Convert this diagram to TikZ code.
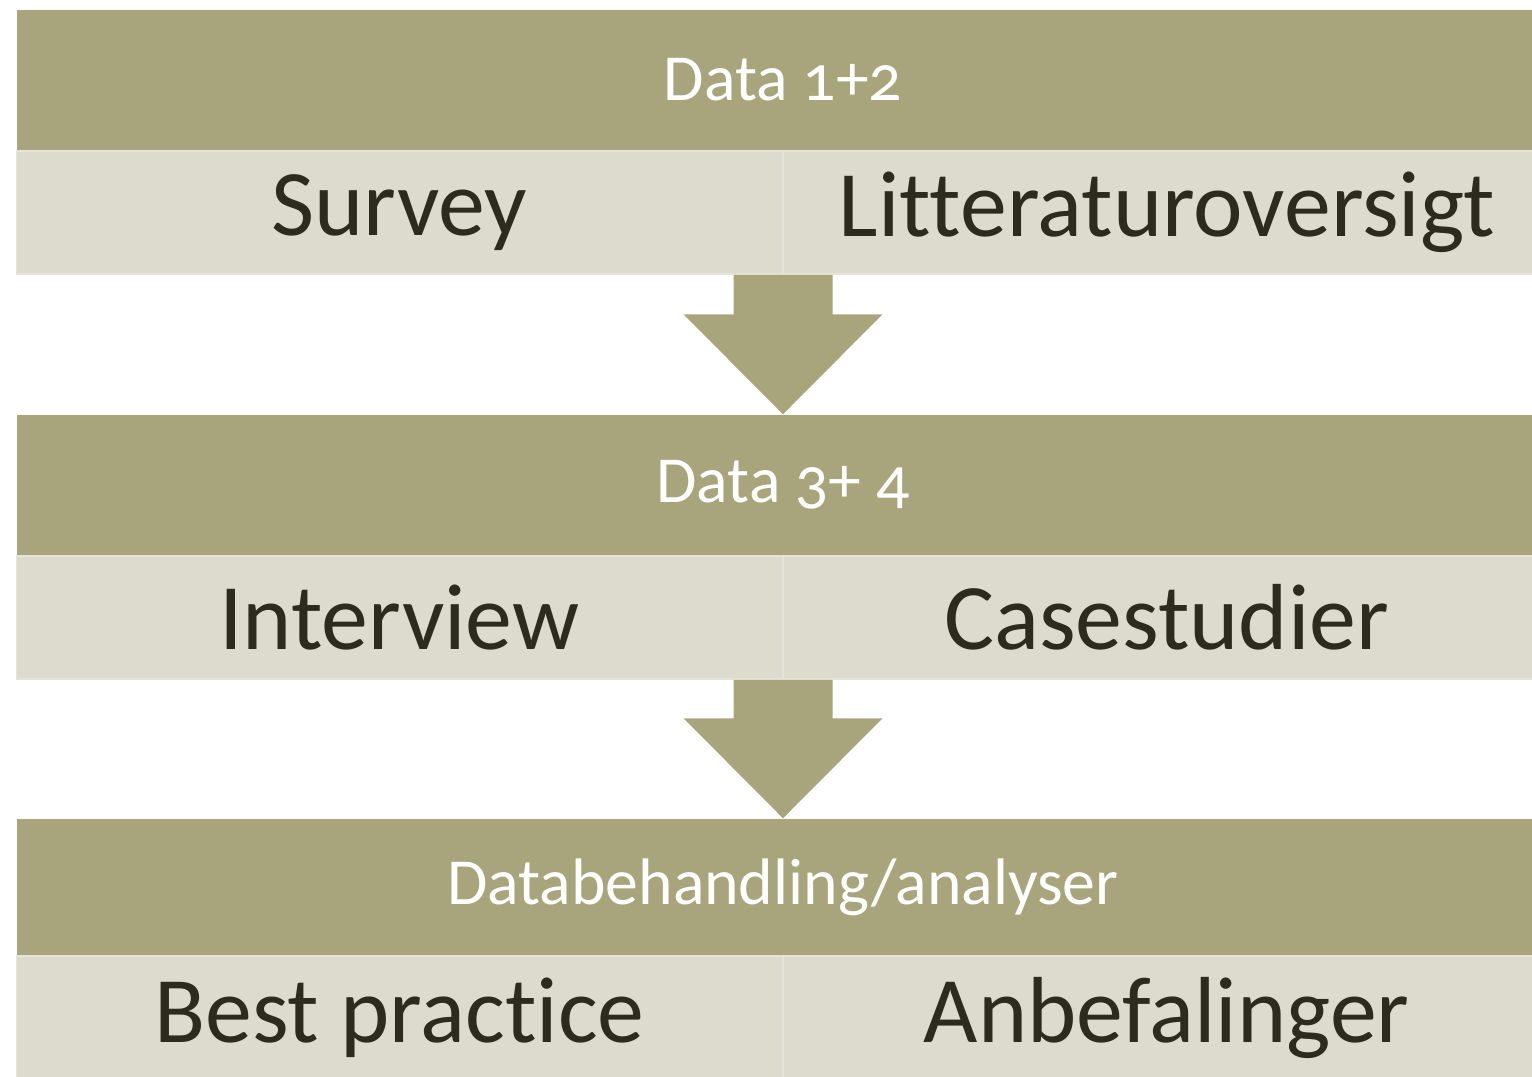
\documentclass[tikz,border=0pt]{standalone}
\usepackage{fontspec}
\setmainfont{Carlito}[Numbers=OldStyle, Ligatures=NoCommon]
\usetikzlibrary{calc}
\definecolor{olivebar}{HTML}{A8A57D}
\definecolor{paleband}{HTML}{DDDBCE}
\definecolor{darktext}{HTML}{2D2A1E}
\begin{document}
\begin{tikzpicture}[
    header/.style={rectangle, fill=olivebar, text=white, minimum width=15.32cm, minimum height=1.40cm, inner sep=0pt, font=\fontsize{18.7}{18.7}\selectfont},
    cell/.style={rectangle, fill=paleband, draw=white!25!paleband, line width=0.4pt, text=darktext, minimum width=7.66cm, minimum height=1.23cm, inner sep=0pt, font=\fontsize{26.7}{26.7}\selectfont},
    flow/.style={fill=olivebar}
  ]
  \useasboundingbox (0,0) rectangle (15.32,10.77);
  % first step
  \node[header] (dataA) at (7.83, 9.97) {Data 1+2};
  \node[cell, anchor=north east] (survey) at (7.83, 9.265) {Survey};
  \node[cell, anchor=north west] (litt) at (7.83, 9.265) {Litteraturoversigt};
  % second step
  \node[header] (dataB) at (7.83, 5.92) {Data 3+ 4};
  \node[cell, anchor=north east] (interview) at (7.83, 5.215) {Interview};
  \node[cell, anchor=north west] (cases) at (7.83, 5.215) {Casestudier};
  % last step
  \node[header, minimum height=1.36cm] (analyse) at (7.83, 1.90) {Databehandling/analyser};
  \node[cell, anchor=north east] (practice) at (7.83, 1.215) {Best practice};
  \node[cell, anchor=north west] (advice) at (7.83, 1.215) {Anbefalinger};

  % block arrows between the steps
  \foreach \from/\to in {survey/dataB, interview/analyse} {
    \coordinate (top) at (\from.south east);
    \coordinate (tip) at (\to.north);
    \fill[flow] ($(top)+(-0.495,0)$) -- ($(top)+(0.495,0)$)
      -- ($(tip)+(0.495,1.00)$) -- ($(tip)+(0.995,1.00)$) -- (tip)
      -- ($(tip)+(-0.995,1.00)$) -- ($(tip)+(-0.495,1.00)$) -- cycle;
  }
\end{tikzpicture}
\end{document}
